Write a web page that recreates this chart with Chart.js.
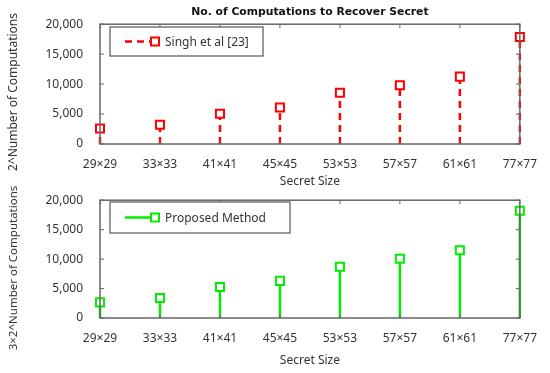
<!DOCTYPE html>
<html>
<head>
<meta charset="utf-8">
<script src="https://cdn.jsdelivr.net/npm/chart.js@4.4.1/dist/chart.umd.min.js"></script>
<style>
  body { margin: 0; background: #fff; }
  .wrap { position: relative; width: 550px; height: 373px; }
  canvas { display: block; position: absolute; left: 0; }
  #topChart { top: 0; }
  #bottomChart { top: 176px; }
</style>
</head>
<body>
<div class="wrap">
<canvas id="topChart" width="550" height="186"></canvas>
<canvas id="bottomChart" width="550" height="197"></canvas>
</div>
<script>
const categories = ["29×29", "33×33", "41×41", "45×45", "53×53", "57×57", "61×61", "77×77"];
const singhValues = [2600, 3200, 5050, 6100, 8550, 9800, 11250, 17850];
const proposedValues = [2650, 3400, 5250, 6300, 8700, 10050, 11500, 18200];
const yMax = 20000;
const yStep = 5000;

const FONT = "'Noto Sans', sans-serif";

// vẽ thân (stem) từ 0 lên đến điểm
const stemPlugin = {
    id: "stems",
    beforeDatasetsDraw(chart) {
        const ctx = chart.ctx;
        const y0 = chart.scales.y.getPixelForValue(0);
        chart.data.datasets.forEach((ds, i) => {
            const meta = chart.getDatasetMeta(i);
            ctx.save();
            ctx.strokeStyle = ds.borderColor;
            ctx.lineWidth = 2.5;
            ctx.setLineDash(ds.stemDash || []);
            meta.data.forEach(pt => {
                ctx.beginPath();
                ctx.moveTo(pt.x, y0);
                ctx.lineTo(pt.x, pt.y + 4);
                ctx.stroke();
            });
            ctx.restore();
        });
    }
};

// khung, vạch chia bên trong, chú thích, tiêu đề
const framePlugin = {
    id: "frame",
    afterDraw(chart, args, opts) {
        const ctx = chart.ctx;
        const a = chart.chartArea;
        const xs = chart.scales.x, ys = chart.scales.y;
        ctx.save();
        ctx.strokeStyle = "#666";
        ctx.lineWidth = 1.5;
        ctx.strokeRect(a.left, a.top, a.right - a.left, a.bottom - a.top);
        ctx.lineWidth = 1;
        ctx.beginPath();
        xs.ticks.forEach((t, i) => {
            const x = xs.getPixelForTick(i);
            ctx.moveTo(x, a.top); ctx.lineTo(x, a.top + 4);
            ctx.moveTo(x, a.bottom); ctx.lineTo(x, a.bottom - 4);
        });
        ys.ticks.forEach((t, i) => {
            const y = ys.getPixelForTick(i);
            ctx.moveTo(a.right, y); ctx.lineTo(a.right - 4, y);
            ctx.moveTo(a.left, y); ctx.lineTo(a.left + 4, y);
        });
        ctx.stroke();

        // chú thích
        const ds = chart.data.datasets[0];
        const lg = opts.legend;
        ctx.fillStyle = "#fff";
        ctx.fillRect(lg.x, lg.y, lg.w, lg.h);
        ctx.strokeStyle = "#555";
        ctx.lineWidth = 1.2;
        ctx.strokeRect(lg.x, lg.y, lg.w, lg.h);
        const cy = lg.y + lg.h / 2;
        ctx.strokeStyle = ds.borderColor;
        ctx.lineWidth = 2.5;
        ctx.setLineDash(ds.stemDash || []);
        ctx.beginPath();
        ctx.moveTo(lg.x + 15, cy); ctx.lineTo(lg.x + 47, cy);
        ctx.stroke();
        ctx.setLineDash([]);
        ctx.lineWidth = 2;
        ctx.fillStyle = "#fff";
        ctx.fillRect(lg.x + 41, cy - 4, 8, 8);
        ctx.strokeRect(lg.x + 41, cy - 4, 8, 8);
        ctx.fillStyle = "#333";
        ctx.font = "12px " + FONT;
        ctx.textBaseline = "middle";
        ctx.textAlign = "left";
        ctx.fillText(ds.label, lg.x + 55, cy + 1);

        // tiêu đề trục
        ctx.fillStyle = "#333";
        ctx.textAlign = "center";
        ctx.font = "12px " + FONT;
        ctx.fillText("Secret Size", (a.left + a.right) / 2, opts.xTitleY);
        ctx.save();
        ctx.translate(14, opts.yTitleY);
        ctx.rotate(-Math.PI / 2);
        ctx.font = opts.yTitleSize + "px " + FONT;
        ctx.fillText(opts.yTitle, 0, 0);
        ctx.restore();

        if (opts.title) {
            ctx.fillStyle = "#111";
            ctx.font = "bold 10.8px 'DejaVu Sans', sans-serif";
            ctx.fillText(opts.title, (a.left + a.right) / 2, 12);
        }
        ctx.restore();
    }
};

function makeChart(id, label, values, color, dash, cfg) {
    return new Chart(document.getElementById(id).getContext("2d"), {
        type: "line",
        data: {
            labels: categories,
            datasets: [{
                label: label,
                data: values,
                borderColor: color,
                backgroundColor: "#fff",
                showLine: false,
                pointStyle: "rect",
                pointRadius: 5.7,
                pointBorderWidth: 2,
                pointHoverRadius: 5.7,
                stemDash: dash
            }]
        },
        options: {
            responsive: false,
            animation: false,
            layout: { padding: { top: cfg.top, right: 22, left: 0, bottom: 0 } },
            plugins: {
                legend: { display: false },
                tooltip: { enabled: false },
                frame: cfg.frame
            },
            scales: {
                x: {
                    type: "category",
                    offset: false,
                    grid: { display: false, drawTicks: false },
                    border: { display: false },
                    ticks: { padding: 13, maxRotation: 0, autoSkip: false, color: "#333", font: { family: FONT, size: 12 } },
                    afterFit(scale) { scale.height = cfg.xHeight; }
                },
                y: {
                    min: 0,
                    max: yMax,
                    grid: { display: false, drawTicks: false },
                    border: { display: false },
                    ticks: { stepSize: yStep, padding: 17, color: "#333", font: { family: FONT, size: 12 } },
                    afterFit(scale) { scale.width = 100; }
                }
            }
        },
        plugins: [stemPlugin, framePlugin]
    });
}

makeChart("topChart", "Singh et al [23]", singhValues, "#ff0000", [7, 5], {
    top: 20,
    xHeight: 42,
    frame: {
        title: "No. of Computations to Recover Secret",
        yTitle: "2^Number of Computations",
        yTitleSize: 12,
        yTitleY: 92,
        xTitleY: 182,
        legend: { x: 110, y: 27, w: 153, h: 29 }
    }
});

makeChart("bottomChart", "Proposed Method", proposedValues, "#00ee00", [], {
    top: 20,
    xHeight: 55,
    frame: {
        title: null,
        yTitle: "3×2^Number of Computations",
        yTitleSize: 11.5,
        yTitleY: 92,
        xTitleY: 185,
        legend: { x: 110, y: 26, w: 180, h: 31 }
    }
});
</script>
</body>
</html>
